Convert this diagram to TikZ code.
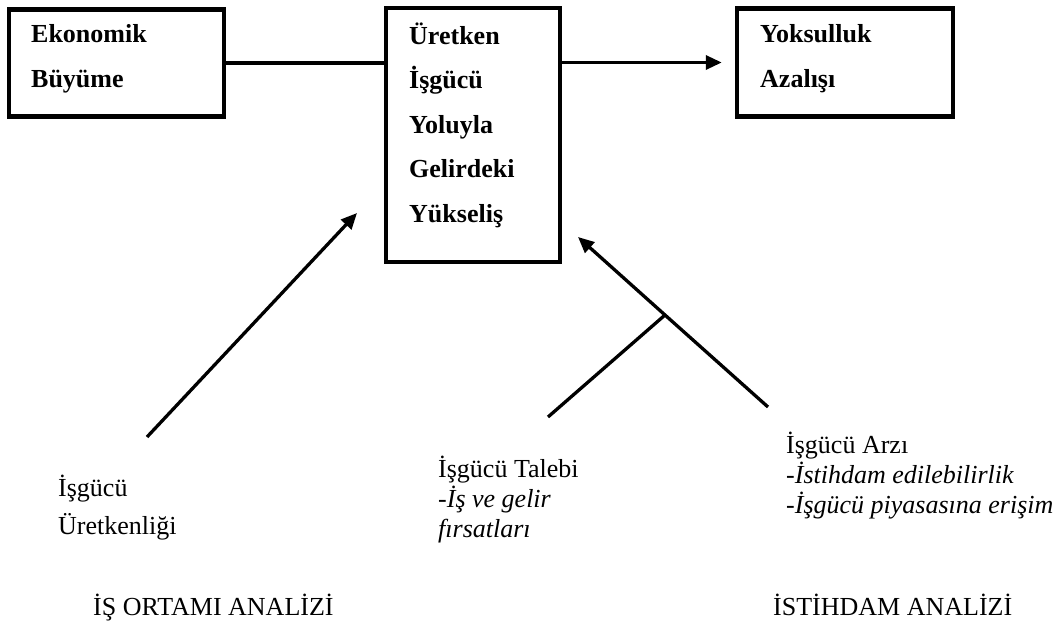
\documentclass[tikz,border=0pt]{standalone}
\usepackage{fontspec}
\setmainfont{Liberation Serif}
\usetikzlibrary{arrows.meta}
\begin{document}
\begin{tikzpicture}[x=1pt,y=-1pt,
  box/.style={draw,line width=4.5pt,inner sep=0pt},
  conn/.style={line width=3.3pt},
  arr/.style={line width=3.3pt,-{Triangle[length=16pt,width=14pt]}},
  btxt/.style={anchor=base west,inner sep=0pt,align=left,font=\bfseries\fontsize{26}{44.5}\selectfont},
  ltxt/.style={anchor=base west,inner sep=0pt,align=left,font=\fontsize{26}{30}\selectfont}]
\useasboundingbox (0,0) rectangle (1057,626);
% boxes
\node[box,minimum width=215pt,minimum height=107pt] (b1) at (116.5,63) {};
\node[box,minimum width=174pt,minimum height=254pt] (b2) at (473,135) {};
\node[box,minimum width=216pt,minimum height=108pt] (b3) at (845,62.5) {};
% box texts (anchor = baseline of last line)
\node[btxt] (t1) at (31,87) {Ekonomik\\Büyüme};
\node[btxt] (t2) at (409,222) {Üretken\\İşgücü\\Yoluyla\\Gelirdeki\\Yükseliş};
\node[btxt] (t3) at (760,87) {Yoksulluk\\Azalışı};
% top connectors
\draw[conn] (b1.east) -- (b1.east -| b2.west);
\draw[arr,shorten >=13pt] (b3.west -| b2.east) -- (b3.west);
% lower arrows
\coordinate (a1s) at (147,437);
\coordinate (a1e) at (357,213);
\draw[arr] (a1s) -- (a1e);
\coordinate (j) at (665,315);
\coordinate (a2e) at (578,237);
\coordinate (ls) at (548,417);
\coordinate (rs) at (768,407);
\draw[conn] (ls) -- (j);
\draw[arr] (rs) -- (j) -- (a2e);
% lower texts
\node[ltxt,font=\fontsize{26}{38}\selectfont] (l1) at (58,534) {İşgücü\\Üretkenliği};
\node[ltxt] (l2) at (438,537) {İşgücü Talebi\\\textit{-İş ve gelir}\\\textit{fırsatları}};
\node[ltxt] (l3) at (786,513) {İşgücü Arzı\\\textit{-İstihdam edilebilirlik}\\\textit{-İşgücü piyasasına erişim}};
\node[ltxt] (h1) at (93,615) {İŞ ORTAMI ANALİZİ};
\node[ltxt] (h2) at (773,615) {İSTİHDAM ANALİZİ};
\end{tikzpicture}
\end{document}
